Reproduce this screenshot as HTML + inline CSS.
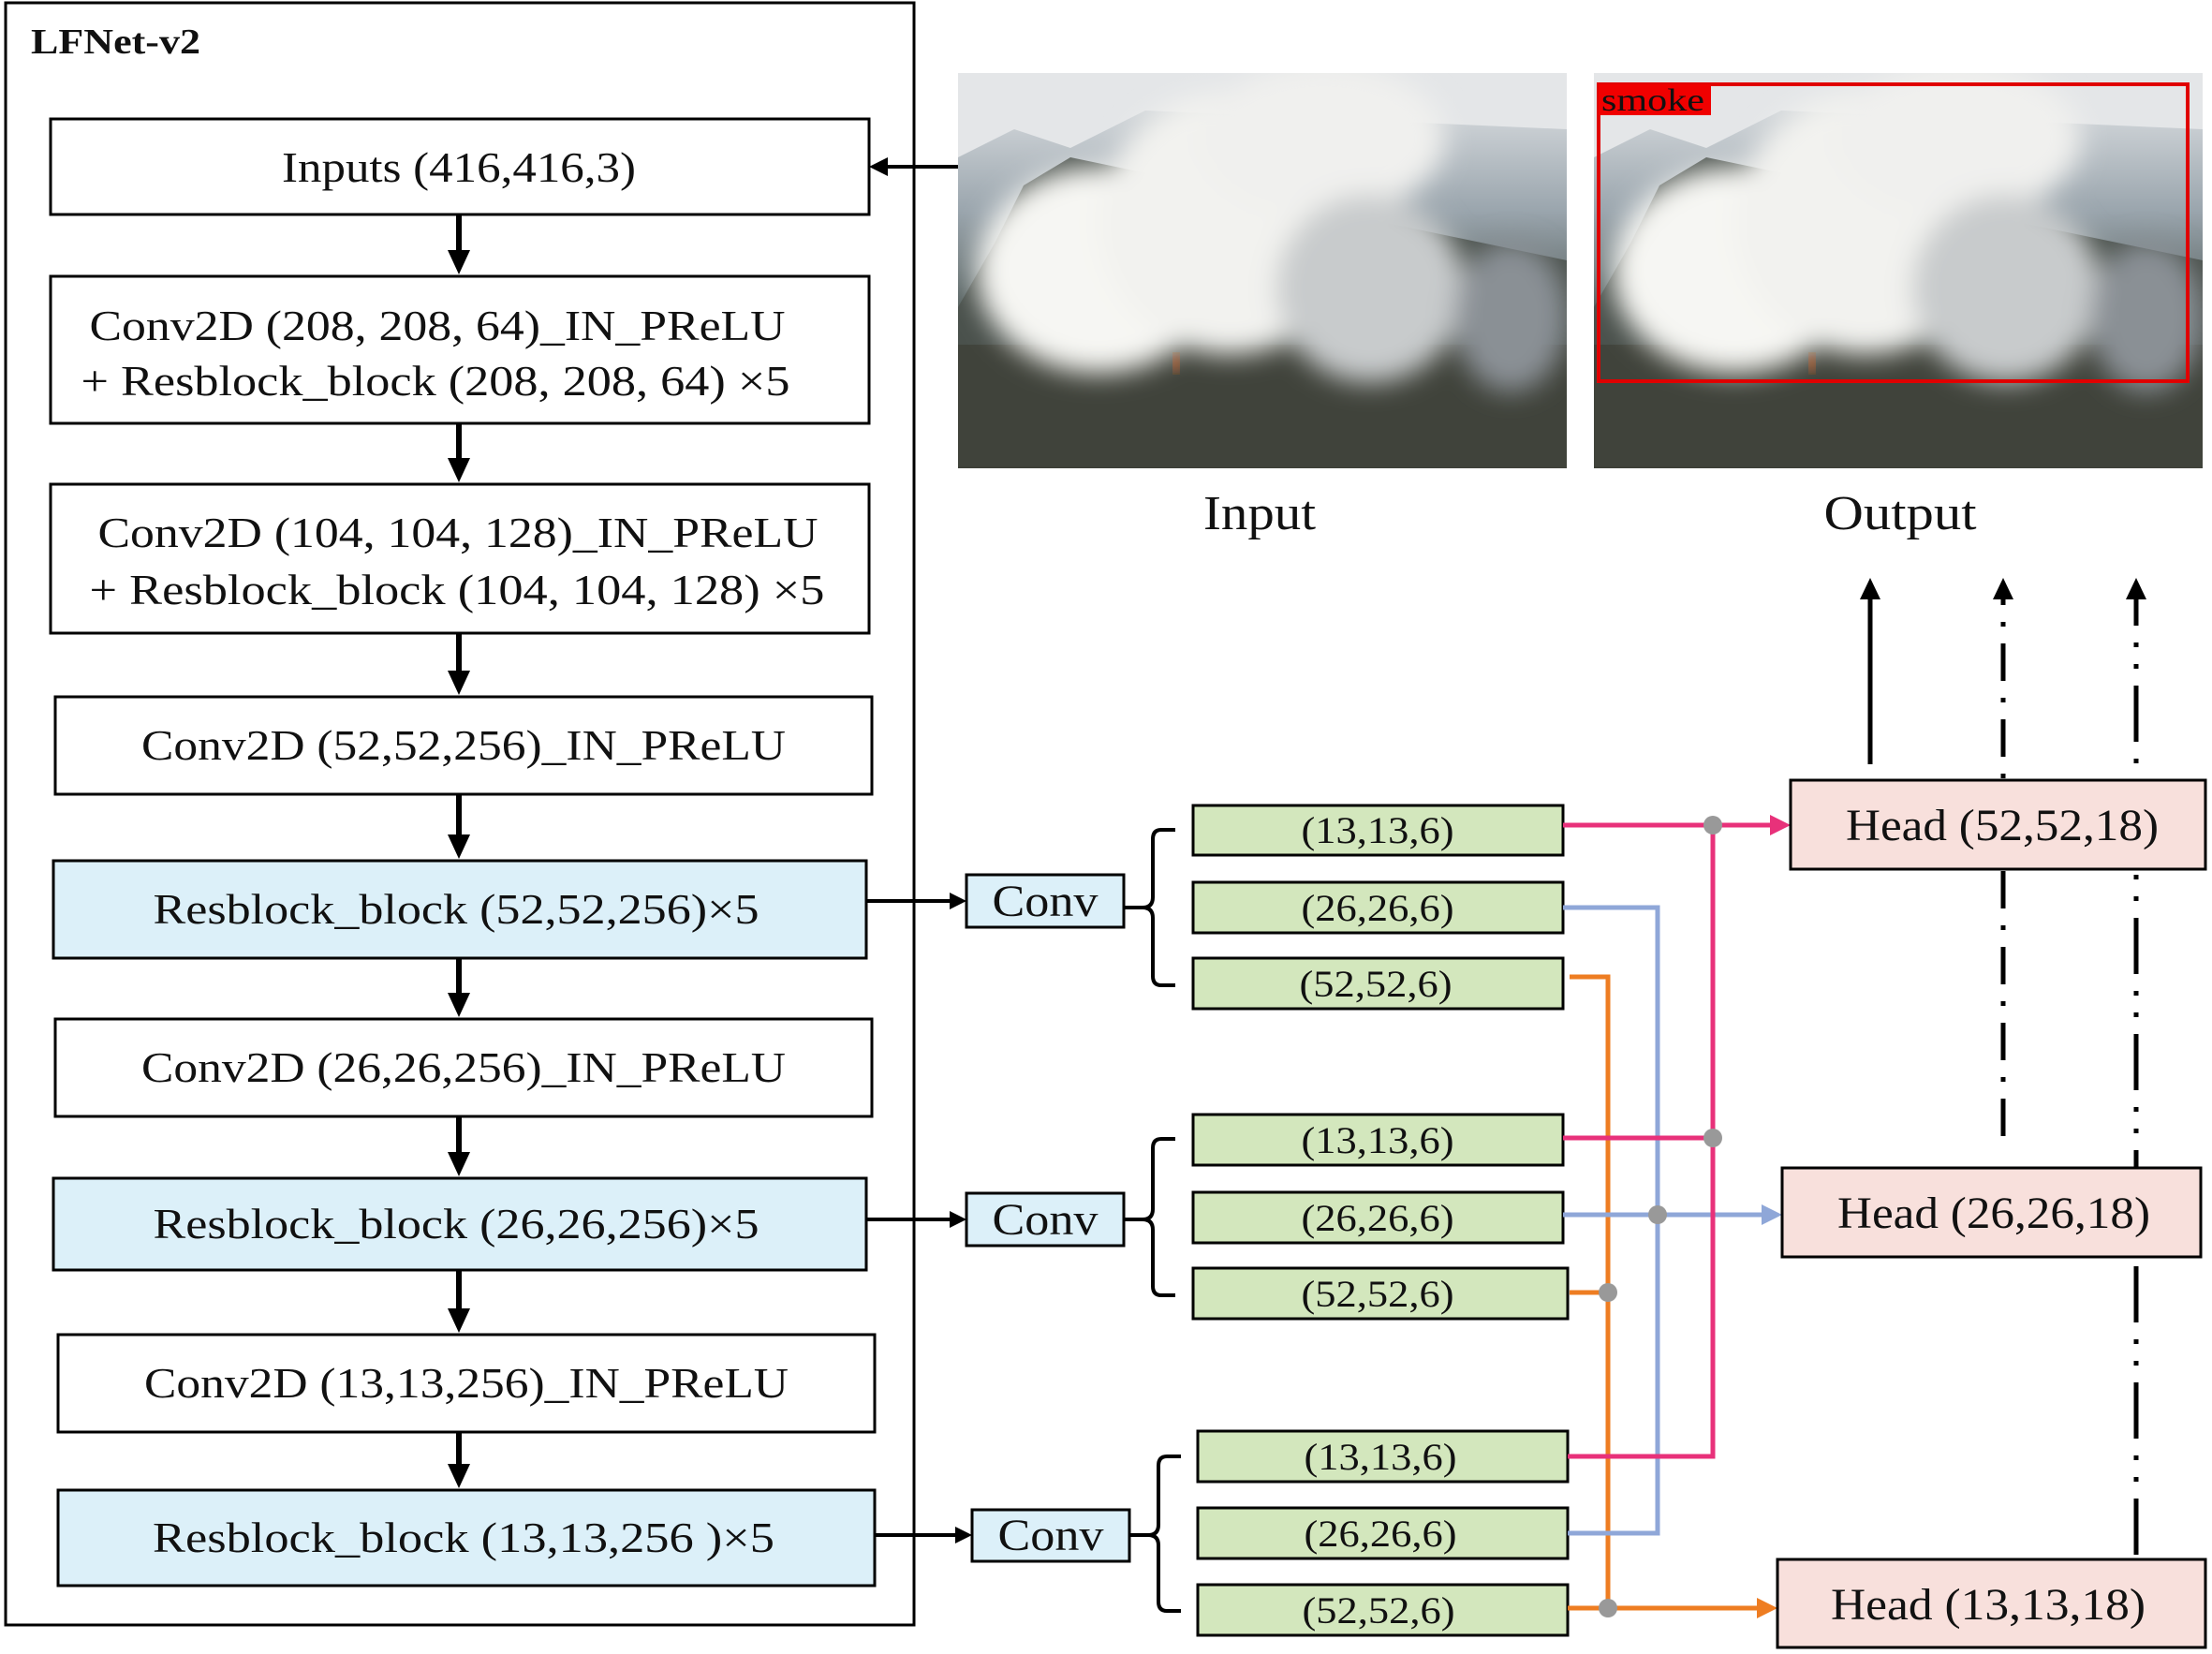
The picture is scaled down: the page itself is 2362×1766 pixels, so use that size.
<!DOCTYPE html>
<html><head><meta charset="utf-8"><style>
html,body{margin:0;padding:0;background:#fff}
svg{display:block}
text{font-family:"Liberation Serif",serif;fill:#111}
</style></head><body>
<svg width="2362" height="1766" viewBox="0 0 2362 1766" xmlns="http://www.w3.org/2000/svg">
<defs>
<filter id="bl" x="-20%" y="-20%" width="140%" height="140%"><feGaussianBlur stdDeviation="14"/></filter>
<filter id="bl2"><feGaussianBlur stdDeviation="6"/></filter>
<linearGradient id="sky" x1="0" y1="0" x2="0" y2="1"><stop offset="0" stop-color="#e6e8ea"/><stop offset="0.35" stop-color="#9aa5ad"/><stop offset="0.6" stop-color="#55605e"/><stop offset="1" stop-color="#3b3d35"/></linearGradient>
<clipPath id="c1"><rect x="0" y="0" width="650" height="422"/></clipPath>
<g id="photo">
<g clip-path="url(#c1)">
<rect x="0" y="0" width="650" height="422" fill="url(#sky)"/>
<path d="M0,90 L60,60 L120,80 L200,40 L650,60 L650,0 L0,0z" fill="#e4e6e8"/>
<path d="M0,420 L0,250 L40,180 L70,120 L120,90 L650,200 L650,422z" fill="#4a514c"/>
<rect x="0" y="290" width="650" height="132" fill="#3e4138" opacity="0.85"/>
<g filter="url(#bl)">
<ellipse cx="150" cy="210" rx="130" ry="110" fill="#f6f6f3"/>
<ellipse cx="290" cy="160" rx="140" ry="140" fill="#f2f2ef"/>
<ellipse cx="390" cy="70" rx="130" ry="80" fill="#f0f0ee"/>
<ellipse cx="440" cy="230" rx="100" ry="100" fill="#c8cbcc"/>
<ellipse cx="590" cy="260" rx="60" ry="80" fill="#8a9095"/>
</g>
<rect x="230" y="300" width="6" height="20" fill="#e2601a" filter="url(#bl2)"/>
</g>
</g>
</defs>

<!-- outer frame -->
<rect x="6" y="3" width="970" height="1732" fill="none" stroke="#000" stroke-width="3"/>
<text x="33" y="57" font-size="38" font-weight="bold" textLength="181" lengthAdjust="spacingAndGlyphs">LFNet-v2</text>

<!-- left boxes -->
<g stroke="#000" stroke-width="3">
<rect x="54" y="127" width="874" height="102" fill="#fff"/>
<rect x="54" y="295" width="874" height="157" fill="#fff"/>
<rect x="54" y="517" width="874" height="159" fill="#fff"/>
<rect x="59" y="744" width="872" height="104" fill="#fff"/>
<rect x="57" y="919" width="868" height="104" fill="#dcf0f9"/>
<rect x="59" y="1088" width="872" height="104" fill="#fff"/>
<rect x="57" y="1258" width="868" height="98" fill="#dcf0f9"/>
<rect x="62" y="1425" width="872" height="104" fill="#fff"/>
<rect x="62" y="1591" width="872" height="102" fill="#dcf0f9"/>
</g>
<g font-size="46" text-anchor="middle">
<text x="490" y="194" textLength="378" lengthAdjust="spacingAndGlyphs">Inputs (416,416,3)</text>
<text x="467" y="363" textLength="743" lengthAdjust="spacingAndGlyphs">Conv2D (208, 208, 64)_IN_PReLU</text>
<text x="465" y="422" textLength="757" lengthAdjust="spacingAndGlyphs">+ Resblock_block (208, 208, 64)  ×5</text>
<text x="489" y="584" textLength="769" lengthAdjust="spacingAndGlyphs">Conv2D (104, 104, 128)_IN_PReLU</text>
<text x="488" y="645" textLength="785" lengthAdjust="spacingAndGlyphs">+ Resblock_block (104, 104, 128)  ×5</text>
<text x="495" y="811" textLength="688" lengthAdjust="spacingAndGlyphs">Conv2D (52,52,256)_IN_PReLU</text>
<text x="487" y="986" textLength="647" lengthAdjust="spacingAndGlyphs">Resblock_block (52,52,256)×5</text>
<text x="495" y="1155" textLength="688" lengthAdjust="spacingAndGlyphs">Conv2D (26,26,256)_IN_PReLU</text>
<text x="487" y="1322" textLength="647" lengthAdjust="spacingAndGlyphs">Resblock_block (26,26,256)×5</text>
<text x="498" y="1492" textLength="688" lengthAdjust="spacingAndGlyphs">Conv2D (13,13,256)_IN_PReLU</text>
<text x="495" y="1657" textLength="664" lengthAdjust="spacingAndGlyphs">Resblock_block (13,13,256 )×5</text>
</g>

<!-- vertical arrows -->
<g stroke="#000" stroke-width="6">
<line x1="490" y1="229" x2="490" y2="270"/>
<line x1="490" y1="452" x2="490" y2="492"/>
<line x1="490" y1="676" x2="490" y2="719"/>
<line x1="490" y1="848" x2="490" y2="894"/>
<line x1="490" y1="1023" x2="490" y2="1063"/>
<line x1="490" y1="1192" x2="490" y2="1233"/>
<line x1="490" y1="1356" x2="490" y2="1400"/>
<line x1="490" y1="1529" x2="490" y2="1566"/>
</g>
<g fill="#000">
<polygon points="490,293 478,267 502,267"/>
<polygon points="490,515 478,489 502,489"/>
<polygon points="490,742 478,716 502,716"/>
<polygon points="490,917 478,891 502,891"/>
<polygon points="490,1086 478,1060 502,1060"/>
<polygon points="490,1256 478,1230 502,1230"/>
<polygon points="490,1423 478,1397 502,1397"/>
<polygon points="490,1589 478,1563 502,1563"/>
</g>
<!-- input arrow -->
<line x1="1023" y1="178" x2="940" y2="178" stroke="#000" stroke-width="4"/>
<polygon points="928,178 948,168 948,188" fill="#000"/>

<!-- photos -->
<use href="#photo" x="1023" y="78"/>
<use href="#photo" x="1702" y="78"/>
<rect x="1707" y="90" width="629" height="317" fill="none" stroke="#e00000" stroke-width="4"/>
<rect x="1707" y="90" width="120" height="33" fill="#f00000"/>
<text x="1710" y="118" font-size="34" fill="#111" textLength="110" lengthAdjust="spacingAndGlyphs">smoke</text>
<text x="1345" y="565" font-size="52" text-anchor="middle" textLength="120" lengthAdjust="spacingAndGlyphs">Input</text>
<text x="2029" y="565" font-size="52" text-anchor="middle" textLength="163" lengthAdjust="spacingAndGlyphs">Output</text>

<!-- arrows to conv -->
<g stroke="#000" stroke-width="4">
<line x1="925" y1="962" x2="1020" y2="962"/>
<line x1="925" y1="1302" x2="1020" y2="1302"/>
<line x1="934" y1="1639" x2="1026" y2="1639"/>
</g>
<polygon points="1032,962 1014,953 1014,971" fill="#000"/>
<polygon points="1032,1302 1014,1293 1014,1311" fill="#000"/>
<polygon points="1038,1639 1020,1630 1020,1648" fill="#000"/>

<!-- conv boxes -->
<g stroke="#000" stroke-width="3" fill="#dcf0f9">
<rect x="1032" y="934" width="168" height="56"/>
<rect x="1032" y="1274" width="168" height="56"/>
<rect x="1038" y="1612" width="168" height="55"/>
</g>
<g font-size="48" text-anchor="middle">
<text x="1116" y="978" textLength="113" lengthAdjust="spacingAndGlyphs">Conv</text>
<text x="1116" y="1318" textLength="113" lengthAdjust="spacingAndGlyphs">Conv</text>
<text x="1122" y="1655" textLength="113" lengthAdjust="spacingAndGlyphs">Conv</text>
</g>

<!-- braces -->
<g fill="none" stroke="#000" stroke-width="4">
<path d="M1255,886 H1240 Q1231,886 1231,896 V958 Q1231,969 1220,969 H1200 M1220,969 Q1231,969 1231,980 V1042 Q1231,1052 1240,1052 H1255"/>
<path d="M1255,1216 H1240 Q1231,1216 1231,1226 V1291 Q1231,1302 1220,1302 H1200 M1220,1302 Q1231,1302 1231,1313 V1373 Q1231,1383 1240,1383 H1255"/>
<path d="M1261,1555 H1246 Q1237,1555 1237,1565 V1628 Q1237,1639 1226,1639 H1206 M1226,1639 Q1237,1639 1237,1650 V1710 Q1237,1720 1246,1720 H1261"/>
</g>

<!-- green boxes -->
<g stroke="#000" stroke-width="3" fill="#d3e7bd">
<rect x="1274" y="860" width="395" height="53"/>
<rect x="1274" y="942" width="395" height="54"/>
<rect x="1274" y="1023" width="395" height="54"/>
<rect x="1274" y="1190" width="395" height="54"/>
<rect x="1274" y="1273" width="395" height="54"/>
<rect x="1274" y="1354" width="400" height="54"/>
<rect x="1279" y="1528" width="395" height="54"/>
<rect x="1279" y="1610" width="395" height="54"/>
<rect x="1279" y="1692" width="395" height="54"/>
</g>
<g font-size="40" text-anchor="middle">
<text x="1471" y="900" textLength="163" lengthAdjust="spacingAndGlyphs">(13,13,6)</text>
<text x="1471" y="983" textLength="163" lengthAdjust="spacingAndGlyphs">(26,26,6)</text>
<text x="1469" y="1064" textLength="163" lengthAdjust="spacingAndGlyphs">(52,52,6)</text>
<text x="1471" y="1231" textLength="163" lengthAdjust="spacingAndGlyphs">(13,13,6)</text>
<text x="1471" y="1314" textLength="163" lengthAdjust="spacingAndGlyphs">(26,26,6)</text>
<text x="1471" y="1395" textLength="163" lengthAdjust="spacingAndGlyphs">(52,52,6)</text>
<text x="1474" y="1569" textLength="163" lengthAdjust="spacingAndGlyphs">(13,13,6)</text>
<text x="1474" y="1651" textLength="163" lengthAdjust="spacingAndGlyphs">(26,26,6)</text>
<text x="1472" y="1733" textLength="163" lengthAdjust="spacingAndGlyphs">(52,52,6)</text>
</g>

<!-- colored connectors -->
<g fill="none" stroke-width="5">
<path d="M1674,1717 H1717 V1043 H1676" stroke="#ee7d22"/>
<path d="M1676,1380 H1717" stroke="#ee7d22"/>
<path d="M1674,1637 H1770 V969 H1669" stroke="#8fa7d8"/>
<path d="M1669,1297 H1890" stroke="#8fa7d8"/>
<path d="M1674,1555 H1829 V881" stroke="#e8317a"/>
<path d="M1669,1215 H1829" stroke="#e8317a"/>
<path d="M1669,881 H1895" stroke="#e8317a"/>
<path d="M1717,1717 H1882" stroke="#ee7d22"/>
</g>
<polygon points="1912,881 1890,870 1890,892" fill="#e8317a"/>
<polygon points="1903,1297 1881,1286 1881,1308" fill="#8fa7d8"/>
<polygon points="1898,1717 1876,1706 1876,1728" fill="#ee7d22"/>
<g fill="#999">
<circle cx="1829" cy="881" r="10"/>
<circle cx="1829" cy="1215" r="10"/>
<circle cx="1770" cy="1297" r="10"/>
<circle cx="1717" cy="1380" r="10"/>
<circle cx="1717" cy="1717" r="10"/>
</g>

<!-- upward arrows (drawn before heads so heads cover them) -->
<line x1="1997" y1="816" x2="1997" y2="635" stroke="#000" stroke-width="5"/>
<polygon points="1997,617 1986,640 2008,640" fill="#000"/>
<line x1="2139" y1="1213" x2="2139" y2="640" stroke="#000" stroke-width="5" stroke-dasharray="40,18,5,18"/>
<polygon points="2139,617 2128,640 2150,640" fill="#000"/>
<line x1="2281" y1="1660" x2="2281" y2="640" stroke="#000" stroke-width="5" stroke-dasharray="60,18,5,18,5,18"/>
<polygon points="2281,617 2270,640 2292,640" fill="#000"/>

<!-- heads -->
<g stroke="#000" stroke-width="3" fill="#f8e0dc">
<rect x="1912" y="833" width="443" height="95"/>
<rect x="1903" y="1247" width="447" height="95"/>
<rect x="1898" y="1665" width="457" height="94"/>
</g>
<g font-size="48" text-anchor="middle">
<text x="2138" y="897" textLength="334" lengthAdjust="spacingAndGlyphs">Head (52,52,18)</text>
<text x="2129" y="1311" textLength="334" lengthAdjust="spacingAndGlyphs">Head (26,26,18)</text>
<text x="2123" y="1729" textLength="336" lengthAdjust="spacingAndGlyphs">Head (13,13,18)</text>
</g>
</svg>
</body></html>
